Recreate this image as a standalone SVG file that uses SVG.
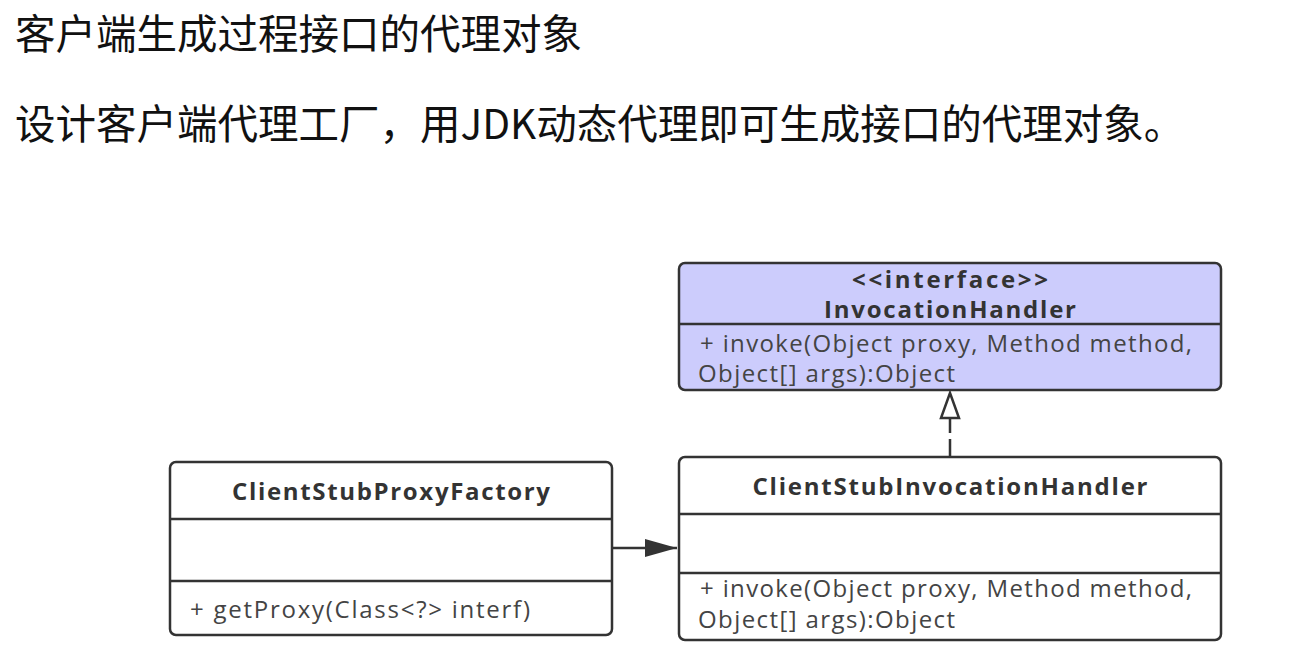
<svg xmlns="http://www.w3.org/2000/svg" width="1290" height="645" viewBox="0 0 1290 645">
<style>
.h{font-family:"Noto Sans CJK SC","Noto Sans",sans-serif;font-size:40.5px;fill:#111}
.box{stroke:#333;stroke-width:2.5;fill:#fff}
.div{stroke:#333;stroke-width:2.5}
.t{font-family:"Open Sans","Noto Sans",sans-serif;font-size:24px;font-weight:bold;fill:#333;text-anchor:middle}
.m{font-family:"Open Sans","Noto Sans",sans-serif;font-size:24px;fill:#444}
.ln{stroke:#333;stroke-width:2.5;fill:none}
</style>
<defs>
<marker id="filled" markerWidth="34" markerHeight="20" refX="32" refY="10" orient="auto" markerUnits="userSpaceOnUse">
<path d="M0,1 L32,10 L0,19 Z" fill="#333"/>
</marker>
</defs>
<rect width="1290" height="645" fill="#fff"/>
<text class="h" x="15" y="49">客户端生成过程接口的代理对象</text>
<text class="h" x="15" y="139">设计客户端代理工厂，用JDK动态代理即可生成接口的代理对象。</text>

<g id="connectors">
<line class="ln" x1="612" y1="548" x2="677" y2="548" marker-end="url(#filled)"/>
<line class="ln" x1="950" y1="457" x2="950" y2="418" stroke-dasharray="18,6"/>
<path d="M950,393 L959,418 L941,418 Z" fill="#fff" stroke="#333" stroke-width="2.5"/>
</g>

<g id="InvocationHandler">
<rect x="679" y="263" width="542" height="127" rx="6" class="box" style="fill:#ccccfc"/>
<line class="div" x1="679" y1="324" x2="1221" y2="324"/>
<text class="t" x="950" y="288" textLength="196" lengthAdjust="spacing">&lt;&lt;interface&gt;&gt;</text>
<text class="t" x="950" y="318" textLength="252" lengthAdjust="spacing">InvocationHandler</text>
<text class="m" x="700" y="352" textLength="492" lengthAdjust="spacing">+ invoke(Object proxy, Method method,</text>
<text class="m" x="698" y="382" textLength="257" lengthAdjust="spacing">Object[] args):Object</text>
</g>

<g id="ClientStubInvocationHandler">
<rect x="679" y="457" width="542" height="183" rx="6" class="box"/>
<line class="div" x1="679" y1="514" x2="1221" y2="514"/>
<line class="div" x1="679" y1="573" x2="1221" y2="573"/>
<text class="t" x="950" y="495" textLength="395" lengthAdjust="spacing">ClientStubInvocationHandler</text>
<text class="m" x="700" y="597" textLength="492" lengthAdjust="spacing">+ invoke(Object proxy, Method method,</text>
<text class="m" x="698" y="628" textLength="257" lengthAdjust="spacing">Object[] args):Object</text>
</g>

<g id="ClientStubProxyFactory">
<rect x="170" y="462" width="442" height="173" rx="6" class="box"/>
<line class="div" x1="170" y1="519" x2="612" y2="519"/>
<line class="div" x1="170" y1="581" x2="612" y2="581"/>
<text class="t" x="391" y="500" textLength="318" lengthAdjust="spacing">ClientStubProxyFactory</text>
<text class="m" x="190" y="618" textLength="340" lengthAdjust="spacing">+ getProxy(Class&lt;?&gt; interf)</text>
</g>
</svg>
